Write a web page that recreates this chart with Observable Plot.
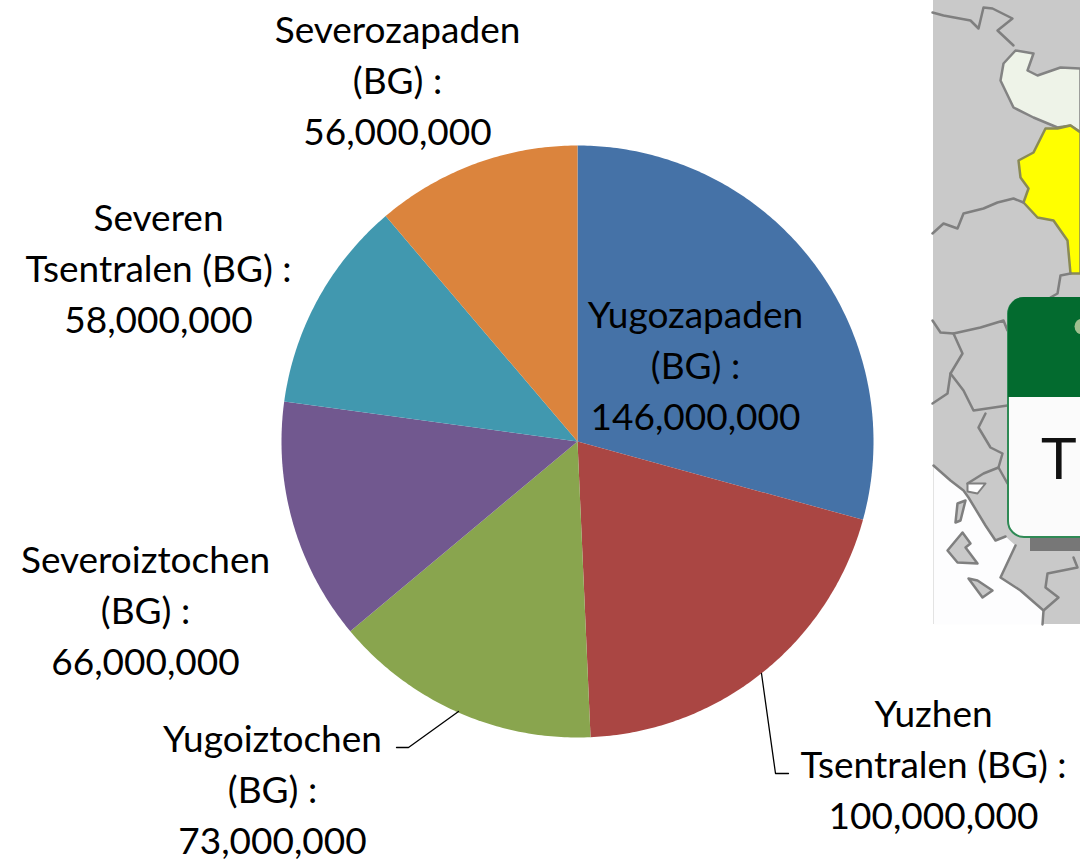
<!DOCTYPE html>
<html>
<head>
<meta charset="utf-8">
<style>html,body{margin:0;padding:0;background:#fff}svg{display:block}</style>
<script src="https://cdn.jsdelivr.net/npm/d3@7"></script>
<script src="https://cdn.jsdelivr.net/npm/@observablehq/plot@0.6"></script>
</head>
<body>
<script>
const regions = ["Yugozapaden\n(BG)", "Yuzhen\nTsentralen (BG)", "Yugoiztochen\n(BG)", "Severoiztochen\n(BG)", "Severen\nTsentralen (BG)", "Severozapaden\n(BG)"];
const values = [146000000, 100000000, 73000000, 66000000, 58000000, 56000000];
const sliceColors = ["#4572A7", "#AA4643", "#89A54E", "#71588F", "#4198AF", "#DB843D"];

// layout, in picture units
const W = 1080, H = 859, cx = 577, cy = 441, R = 296;
const labelX = [695, 933, 272, 145, 158, 397];
const labelY = [362, 761, 786, 607, 265, 77];
const leaders = [
  [[396,747],[408,747],[458,711]],
  [[761,673],[775,773],[788,773]]
];

// background map (inset picture in the source)
const sea = [[933,465],[950,480],[963,490],[968,497],[985,525],[995,540],[1005,536],[1015,545],[1000,577],[1020,590],[1043,610],[1042,624],[933,624]];
const pale = [[1015,50],[1033,53],[1027,70],[1037,75],[1060,67],[1080,68],[1080,132],[1070,125],[1057,127],[1033,117],[1013,107],[1000,80],[1003,63]];
const yellow = [[1045,128],[1057,128],[1070,125],[1080,132],[1080,273],[1070,273],[1067,240],[1053,220],[1037,217],[1023,202],[1028,188],[1020,177],[1018,160],[1033,152]];
const borders = [
  [[932,12],[943,15],[970,20],[978,28],[983,7],[992,8],[1012,18],[997,30],[1013,45]],
  [[932,233],[943,223],[957,228],[963,213],[983,208],[997,202],[1013,198],[1023,202]],
  [[1070,273],[1060,275],[1057,293],[1050,297]],
  [[932,320],[940,332],[953,333],[980,327],[1003,320],[1007,330]],
  [[953,333],[962,353],[950,373],[963,390],[973,410],[1007,405]],
  [[950,373],[947,393],[932,403]],
  [[985,413],[978,427],[990,447],[1002,453],[998,467],[983,473],[967,483]],
  [[998,467],[1007,483]],
  [[933,465],[950,480],[963,490],[968,497],[985,525],[995,540],[1005,536]],
  [[1015,545],[1000,577],[1020,590],[1043,610],[1042,624]],
  [[1073,557],[1077,567],[1047,573],[1045,587],[1058,597],[1043,610]]
];
const gulf = [[967,483],[985,483],[977,493],[967,491]];
const islands = [
  [[957,503],[965,500],[960,520],[955,522]],
  [[947,550],[962,532],[970,543],[965,547],[977,563],[957,562]],
  [[968,578],[977,580],[992,590],[982,597]]
];

const toRows = (polys) => polys.flatMap((p, i) => p.map(([x, y]) => ({x, y, i})));

// pie slices from the values
const pie = d3.pie().sort(null).value(d => d)(values);
const slicePts = pie.flatMap((s, i) => {
  const n = Math.max(2, Math.ceil((s.endAngle - s.startAngle) * 90));
  const pts = [{x: cx, y: cy, name: regions[i]}];
  for (let k = 0; k <= n; k++) {
    const a = s.startAngle + (s.endAngle - s.startAngle) * k / n;
    pts.push({x: cx + R * Math.sin(a), y: cy - R * Math.cos(a), name: regions[i]});
  }
  return pts;
});
const labels = regions.map((r, i) => ({
  text: `${r} :\n${d3.format(",")(values[i])}`, x: labelX[i], y: labelY[i]
}));

const chart = Plot.plot({
  width: W, height: H,
  margin: 0,
  style: {background: "#fff"},
  x: {domain: [0, W], range: [0, W], axis: null},
  y: {domain: [0, H], range: [0, H], axis: null},
  color: {domain: regions, range: sliceColors},
  marks: [
    // map
    Plot.rect([{}], {x1: () => 933, x2: () => W, y1: () => 0, y2: () => 624, fill: "#c9c9c9"}),
    Plot.line(sea, {x: d => d[0], y: d => d[1], fill: "#fdfdfe", stroke: "none", curve: "linear-closed"}),
    Plot.line(pale, {x: d => d[0], y: d => d[1], fill: "#eef3e8", stroke: "#838383", strokeWidth: 2.5, curve: "linear-closed"}),
    Plot.line(yellow, {x: d => d[0], y: d => d[1], fill: "#ffff00", stroke: "#8a8a55", strokeWidth: 2.5, curve: "linear-closed"}),
    Plot.line(toRows(borders), {x: "x", y: "y", z: "i", stroke: "#7f7f7f", strokeWidth: 2.5}),
    Plot.line(gulf, {x: d => d[0], y: d => d[1], fill: "#fdfdfe", stroke: "#7f7f7f", strokeWidth: 2, curve: "linear-closed"}),
    Plot.line(toRows(islands), {x: "x", y: "y", z: "i", fill: "#c9c9c9", stroke: "#7f7f7f", strokeWidth: 2.5, curve: "linear-closed"}),
    Plot.rect([{}], {x1: () => 1030, x2: () => W, y1: () => 538, y2: () => 551, fill: "#777"}),
    Plot.rect([{}], {x1: () => 1008, x2: () => W + 30, y1: () => 298, y2: () => 537, fill: "#fbfbfb", stroke: "#2f8a55", strokeWidth: 2, rx: 16}),
    Plot.rect([{}], {x1: () => 1008, x2: () => W + 30, y1: () => 297, y2: () => 345, fill: "#036b2f", rx: 16}),
    Plot.rect([{}], {x1: () => 1008, x2: () => W + 30, y1: () => 320, y2: () => 397, fill: "#036b2f"}),
    Plot.dot([{}], {x: () => 1082, y: () => 326, r: 8, fill: "#9fbf8f"}),
    Plot.text(["T"], {x: () => 1040, y: () => 478, text: d => d, textAnchor: "start", lineAnchor: "bottom", fontFamily: "Liberation Sans", fontSize: 60, fill: "#111"}),
    // pie
    Plot.line(slicePts, {x: "x", y: "y", z: "name", fill: "name", stroke: "none", curve: "linear-closed"}),
    // leaders
    Plot.line(toRows(leaders), {x: "x", y: "y", z: "i", stroke: "#000", strokeWidth: 1.3}),
    // labels
    Plot.text(labels, {x: "x", y: "y", text: "text", fontFamily: "Lato", fontSize: 37, lineHeight: 1.39, fill: "#000", textAnchor: "middle", lineAnchor: "middle"})
  ]
});
document.body.appendChild(chart);
</script>
</body>
</html>
